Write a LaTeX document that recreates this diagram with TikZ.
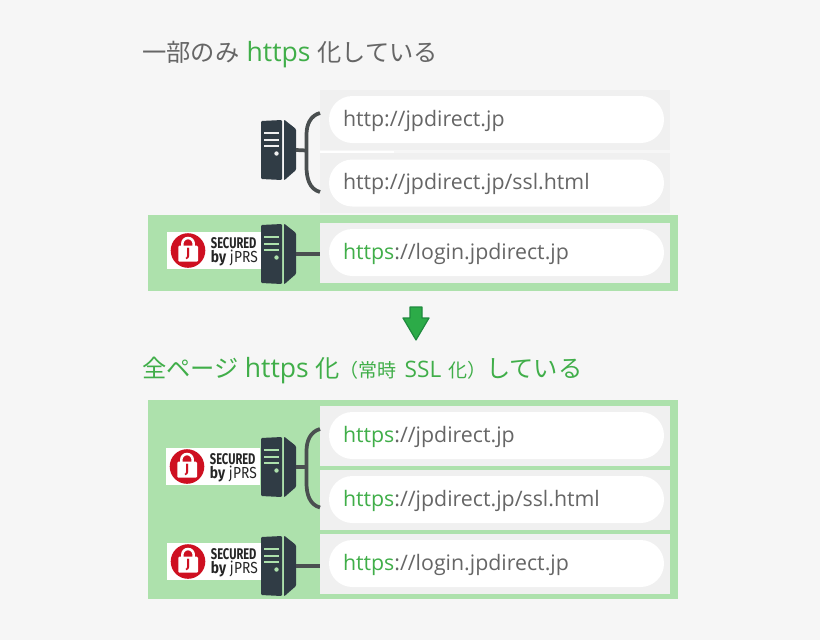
\documentclass[tikz,border=0pt]{standalone}
\usepackage{fontspec}
\setmainfont{Open Sans}
\newfontfamily\cjk{Noto Sans CJK JP}
\newfontfamily\cond{Fira Sans}
\usetikzlibrary{calc}
\definecolor{bggrey}{HTML}{F6F6F6}
\definecolor{panelgrey}{HTML}{F0F0F0}
\definecolor{bandgreen}{HTML}{ADE1AC}
\definecolor{urlgreen}{HTML}{40AE49}
\definecolor{textgrey}{HTML}{666666}
\definecolor{srvdark}{HTML}{303C45}
\definecolor{wiredark}{HTML}{4A4F50}
\definecolor{lockred}{HTML}{CE1021}
\definecolor{arrowfill}{HTML}{2CAB48}
\definecolor{arrowedge}{HTML}{1F8A3E}
\newcommand{\httpsword}{\textcolor{urlgreen}{https}}
\newcommand{\bigword}[1]{{\normalfont\fontsize{19.9pt}{19.9pt}\selectfont #1}}
\newcommand{\smallword}[1]{{\normalfont\fontsize{17pt}{17pt}\selectfont #1}}
\tikzset{
    pics/server/.style={code={
        \fill[srvdark,rounded corners=0.8pt] (-17.5,-29) -- (3.5,-30) -- (3.5,30) -- (-17.5,29) -- cycle;
        \fill[srvdark,rounded corners=0.8pt] (5.5,-30.5) -- (17.5,-21) -- (17.5,20) -- (5.5,30.5) -- cycle;
        \foreach \y in {-17,-10,-4} \fill[#1] (-14.5,\y-1.1) rectangle (0.5,\y+1.1);
        \fill[#1] (-2,3.5) circle (2.2);
        \coordinate (-p) at (17.5,0);
    }},
    pics/secured/.style={code={
        \fill[white] (0,0) rectangle (94,37);
        \fill[lockred] (21,18.5) circle (17.3);
        \draw[white,line width=1.9pt] (15.3,14) -- (15.3,11.7) arc[start angle=180,end angle=360,radius=5.7] -- (26.7,14);
        \fill[white,rounded corners=0.8pt] (11.3,13.7) rectangle (31,29.7);
        \node[font=\cond\bfseries\fontsize{10pt}{10pt}\selectfont,text=lockred,inner sep=0pt] (-j) at (21,22) {J};
        \node[font=\cond\bfseries\fontsize{11.6pt}{11.6pt}\selectfont,text=black!85,inner sep=0pt,anchor=west,xscale=0.72] (-a) at (43.7,11) {SECURED};
        \node[font=\cond\fontsize{12pt}{12pt}\selectfont,text=black!85,inner sep=0pt,anchor=west,xscale=0.86] (-b) at (43.7,26.5) {\textbf{by} j\kern0.4pt PRS};
    }}
}
\begin{document}
\begin{tikzpicture}[x=0.75pt,y=-0.75pt]
%% styles
\tikzstyle{panel}=[rectangle,fill=panelgrey,minimum width=262.5pt,minimum height=45pt,inner sep=0pt]
\tikzstyle{pill}=[rectangle,fill=white,rounded corners=17.6pt,minimum width=251.25pt,minimum height=35.25pt,inner xsep=10.5pt,inner ysep=0pt,text width=230.25pt,align=left,text=textgrey,text height=9.8pt,text depth=0pt,font=\fontsize{16pt}{16pt}\selectfont]
\tikzstyle{title}=[anchor=west,inner sep=0pt,font=\cjk\fontsize{18.2pt}{18.2pt}\selectfont]
\tikzstyle{wire}=[draw=wiredark,line width=2.8pt]
\useasboundingbox[fill=bggrey] (0,0) rectangle (820,640);
%%%%%%%%%%%%%%%%%%%%%%%%%%%%%%%%%%%%%%%%%%%%%%%%%%%%%%%%%%%%%%%%%%%%%%%%
%green bands
\node[fill=bandgreen,inner sep=0pt,minimum width=397.5pt,minimum height=57pt] (band1) at (413,253) {};
\node[fill=bandgreen,inner sep=0pt,minimum width=397.5pt,minimum height=149.25pt] (band2) at (413,499.5) {};
%TITLES
\node[title,text=textgrey] (title1) at (142,55) {一部のみ\kern5.5pt\textcolor{urlgreen}{\bigword{https}}\kern5pt 化している};
\node[title,text=urlgreen] (title2) at (142,370) {全ページ\kern4.5pt\bigword{https}\kern5pt 化{\fontsize{14.25pt}{14.25pt}\selectfont（常時\kern6pt\smallword{SSL}\kern5pt 化）}している};
%%%%%%%%%%%%%%%%%%%%%%%%%%%%%%%%%%%%%%%%%%%%%%%%%%%%%%%%%%%%%%%%%%%%%%%%
%top
\node[panel] (panel1) at (495,119.5) {};
\node[panel] (panel2) at (495,183) {};
\node[panel] (panel3) at (495,253) {};
\node[pill] (url1) at (496.5,119.5) {http://jpdirect.jp};
\node[pill] (url2) at (496.5,183) {http://jpdirect.jp/ssl.html};
\node[pill] (url3) at (496.5,252.5) {\httpsword://login.jpdirect.jp};
%bottom
\node[panel] (panel4) at (495,436) {};
\node[panel] (panel5) at (495,500) {};
\node[panel] (panel6) at (495,564) {};
\node[pill] (url4) at (496.5,435.5) {\httpsword://jpdirect.jp};
\node[pill] (url5) at (496.5,499.5) {\httpsword://jpdirect.jp/ssl.html};
\node[pill] (url6) at (496.5,563.5) {\httpsword://login.jpdirect.jp};
%%%%%%%%%%%%%%%%%%%%%%%%%%%%%%%%%%%%%%%%%%%%%%%%%%%%%%%%%%%%%%%%%%%%%%%%
%badges
\pic (badge1) at (167,232) {secured};
\pic (badge2) at (166,448) {secured};
\pic (badge3) at (167,543) {secured};
%servers
\pic (srv1) at (278.5,150) {server={panelgrey}};
\pic (srv2) at (278.5,254) {server={bandgreen}};
\pic (srv3) at (278.5,467) {server={bandgreen}};
\pic (srv4) at (278.5,566) {server={bandgreen}};
%%%%%%%%%%%%%%%%%%%%%%%%%%%%%%%%%%%%%%%%%%%%%%%%%%%%%%%%%%%%%%
%WIRES
\coordinate (top1) at (320,113);
\coordinate (bot1) at (320,192);
\coordinate (mid1) at (306.5,150.5);
\coordinate (top2) at (320,429);
\coordinate (bot2) at (320,507.5);
\coordinate (mid2) at (306.5,467);
\draw[wire] (top1) to[out=195,in=90] ($(mid1)+(0,-16)$) -- ($(mid1)+(0,16)$) to[out=-90,in=165] (bot1);
\draw[wire] (srv1-p) -- (mid1);
\draw[wire] (top2) to[out=195,in=90] ($(mid2)+(0,-16)$) -- ($(mid2)+(0,16)$) to[out=-90,in=165] (bot2);
\draw[wire] (srv3-p) -- (mid2);
\draw[wire] (srv2-p) -- (srv2-p -| panel3.west);
\draw[wire] (srv4-p) -- (srv4-p -| panel6.west);
%gap line
\coordinate (gapend) at (394,151.5);
\draw[white,line width=1.5pt] (panel1.south west |- gapend) -- (gapend);
%%%%%%%%%%%%%%%%%%%%%%%%%%%%%%%%%%%%%%%%%%%%%%%%%%%%%%%%%%%%%%
%ARROW
\draw[fill=arrowfill,draw=arrowedge,line width=0.9pt,line join=round] (410,307) -- (422,307) -- (422,318) -- (429,318) -- (416,340) -- (403,318) -- (410,318) -- cycle;
\end{tikzpicture}
\end{document}
